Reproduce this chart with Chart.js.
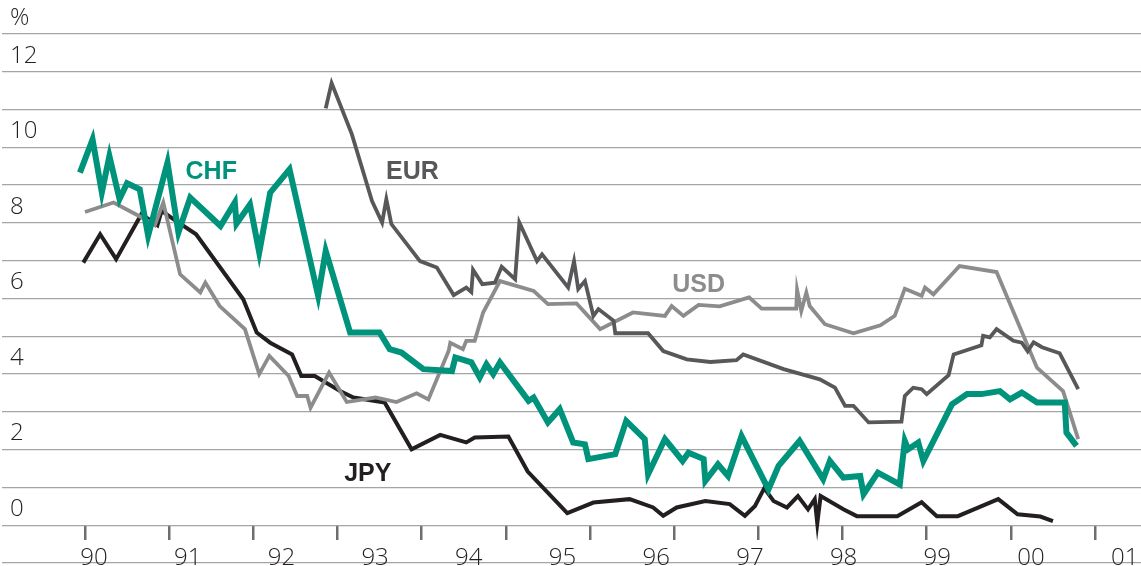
<!DOCTYPE html>
<html>
<head>
<meta charset="utf-8">
<script src="https://cdn.jsdelivr.net/npm/chart.js@4.4.1/dist/chart.umd.min.js"></script>
<style>
    html, body { margin: 0; padding: 0; background: #fff; }
    #wrap { width: 1141px; height: 566px; position: relative; }
</style>
</head>
<body>
<div id="wrap"><canvas id="rates"></canvas></div>
<script>
// time in decimal years, rates in %
var chfX = [1989.94, 1990.09, 1990.20, 1990.29, 1990.41, 1990.50, 1990.65, 1990.75, 1990.98, 1991.11, 1991.25, 1991.61, 1991.78, 1991.80, 1991.96, 1992.07, 1992.20, 1992.43, 1992.77, 1992.86, 1993.15, 1993.50, 1993.62, 1993.76, 1994.02, 1994.36, 1994.40, 1994.59, 1994.69, 1994.77, 1994.85, 1994.93, 1995.27, 1995.33, 1995.50, 1995.64, 1995.80, 1995.94, 1995.98, 1996.30, 1996.43, 1996.65, 1996.69, 1996.89, 1997.10, 1997.17, 1997.35, 1997.37, 1997.52, 1997.64, 1997.80, 1998.12, 1998.24, 1998.49, 1998.77, 1998.85, 1999.01, 1999.21, 1999.25, 1999.42, 1999.68, 1999.74, 1999.78, 1999.90, 1999.96, 2000.30, 2000.48, 2000.65, 2000.87, 2000.99, 2001.13, 2001.31, 2001.64, 2001.66, 2001.78];
var chfY = [9.33, 10.21, 8.81, 9.77, 8.63, 9.05, 8.89, 7.66, 9.60, 7.75, 8.67, 7.92, 8.54, 7.98, 8.49, 7.22, 8.80, 9.42, 6.07, 7.26, 5.10, 5.10, 4.66, 4.57, 4.13, 4.08, 4.44, 4.31, 3.91, 4.26, 4.00, 4.31, 3.29, 3.38, 2.72, 3.07, 2.19, 2.14, 1.75, 1.88, 2.76, 2.28, 1.35, 2.28, 1.70, 1.92, 1.75, 1.17, 1.61, 1.30, 2.36, 0.95, 1.57, 2.23, 1.22, 1.70, 1.26, 1.30, 0.82, 1.39, 1.08, 2.23, 2.01, 2.19, 1.70, 3.20, 3.47, 3.47, 3.55, 3.33, 3.51, 3.25, 3.25, 2.45, 2.10];

var eurX = [1992.86, 1992.93, 1993.17, 1993.41, 1993.53, 1993.58, 1993.64, 1993.98, 1994.18, 1994.38, 1994.53, 1994.59, 1994.61, 1994.72, 1994.87, 1994.95, 1995.11, 1995.16, 1995.37, 1995.43, 1995.74, 1995.81, 1995.86, 1995.94, 1996.04, 1996.10, 1996.28, 1996.30, 1996.69, 1996.87, 1997.15, 1997.43, 1997.74, 1997.82, 1998.30, 1998.73, 1998.91, 1999.03, 1999.13, 1999.31, 1999.70, 1999.74, 1999.84, 1999.94, 2000.00, 2000.26, 2000.32, 2000.65, 2000.67, 2000.75, 2000.83, 2001.03, 2001.13, 2001.20, 2001.27, 2001.37, 2001.58, 2001.80];
var eurY = [11.03, 11.70, 10.35, 8.58, 8.01, 8.63, 7.97, 6.99, 6.82, 6.09, 6.29, 6.17, 6.76, 6.38, 6.42, 6.84, 6.51, 8.01, 6.99, 7.17, 6.29, 6.99, 6.25, 6.46, 5.54, 5.72, 5.41, 5.08, 5.08, 4.61, 4.39, 4.32, 4.37, 4.52, 4.13, 3.86, 3.64, 3.16, 3.16, 2.72, 2.74, 3.42, 3.64, 3.60, 3.47, 3.97, 4.52, 4.76, 5.01, 4.97, 5.19, 4.88, 4.83, 4.60, 4.84, 4.71, 4.55, 3.60];

var usdX = [1990.00, 1990.34, 1990.67, 1990.83, 1990.93, 1991.13, 1991.37, 1991.43, 1991.60, 1991.90, 1992.07, 1992.19, 1992.42, 1992.52, 1992.64, 1992.68, 1992.90, 1993.11, 1993.45, 1993.70, 1993.94, 1994.08, 1994.32, 1994.34, 1994.49, 1994.53, 1994.63, 1994.73, 1994.93, 1995.33, 1995.50, 1995.84, 1996.12, 1996.51, 1996.89, 1996.97, 1997.11, 1997.29, 1997.54, 1997.89, 1998.04, 1998.45, 1998.46, 1998.51, 1998.57, 1998.61, 1998.79, 1999.13, 1999.45, 1999.62, 1999.74, 1999.94, 1999.98, 2000.08, 2000.39, 2000.83, 2001.31, 2001.62, 2001.80];
var usdY = [8.29, 8.54, 8.15, 7.94, 8.54, 6.64, 6.16, 6.42, 5.80, 5.19, 4.00, 4.48, 3.95, 3.42, 3.42, 3.11, 4.04, 3.26, 3.38, 3.26, 3.49, 3.33, 4.61, 4.83, 4.66, 4.88, 4.88, 5.63, 6.46, 6.20, 5.85, 5.87, 5.19, 5.63, 5.54, 5.80, 5.54, 5.83, 5.79, 6.03, 5.73, 5.73, 6.23, 5.67, 6.16, 5.80, 5.32, 5.08, 5.29, 5.54, 6.26, 6.07, 6.29, 6.11, 6.86, 6.70, 4.17, 3.55, 2.28];

var jpyX = [1989.98, 1990.18, 1990.37, 1990.67, 1990.86, 1990.91, 1991.05, 1991.32, 1991.88, 1992.04, 1992.20, 1992.46, 1992.57, 1992.73, 1993.03, 1993.19, 1993.56, 1993.88, 1994.22, 1994.53, 1994.63, 1995.03, 1995.26, 1995.73, 1996.04, 1996.47, 1996.75, 1996.87, 1997.03, 1997.37, 1997.66, 1997.84, 1997.96, 1998.07, 1998.18, 1998.34, 1998.47, 1998.59, 1998.67, 1998.70, 1998.74, 1999.01, 1999.17, 1999.65, 1999.94, 2000.12, 2000.37, 2000.54, 2000.85, 2001.08, 2001.35, 2001.50];
var jpyY = [6.95, 7.70, 7.04, 8.23, 7.94, 8.32, 8.10, 7.70, 5.98, 5.10, 4.83, 4.52, 3.95, 3.95, 3.55, 3.38, 3.25, 2.01, 2.39, 2.19, 2.32, 2.35, 1.42, 0.32, 0.60, 0.69, 0.47, 0.25, 0.47, 0.64, 0.56, 0.25, 0.51, 0.98, 0.64, 0.47, 0.77, 0.42, 0.69, 0.05, 0.77, 0.42, 0.24, 0.24, 0.61, 0.24, 0.24, 0.40, 0.69, 0.29, 0.23, 0.11];

// axis text
var yearTicks = [1990, 1991, 1992, 1993, 1994, 1995, 1996, 1997, 1998, 1999, 2000, 2001, 2002];
var yearLabels = ['90', '91', '92', '93', '94', '95', '96', '97', '98', '99', '00', '01'];
var yLabelValues = [0, 2, 4, 6, 8, 10, 12];
var unitLabel = '%';

// series names and where they sit (year, %)
var seriesNames = ['CHF', 'EUR', 'USD', 'JPY'];
var nameX = [1991.50, 1993.89, 1997.29, 1993.36];
var nameY = [9.16, 9.16, 6.17, 1.17];
var seriesColors = ['#00937c', '#58585b', '#8c8c8c', '#231f20'];
var seriesWidths = [6, 3.8, 3.8, 4];

function pairs(xs, ys) {
    return xs.map((x, i) => ({ x: x, y: ys[i] }));
}

var seriesData = [pairs(chfX, chfY), pairs(eurX, eurY), pairs(usdX, usdY), pairs(jpyX, jpyY)];

function noPad(scale) {
    scale.paddingTop = 0;
    scale.paddingBottom = 0;
    scale.paddingLeft = 0;
    scale.paddingRight = 0;
}

const seriesNamePlugin = {
    id: 'seriesNames',
    afterDatasetsDraw(chart) {
        const ctx = chart.ctx;
        const xs = chart.scales.x, ys = chart.scales.y;
        ctx.save();
        ctx.font = 'bold 25px "Liberation Sans", Arial, sans-serif';
        ctx.textAlign = 'center';
        ctx.textBaseline = 'alphabetic';
        seriesNames.forEach((name, i) => {
            ctx.fillStyle = seriesColors[i];
            ctx.fillText(name, xs.getPixelForValue(nameX[i]), ys.getPixelForValue(nameY[i]));
        });
        ctx.restore();
    }
};

const tickFont = { family: '"Open Sans", sans-serif', size: 24, weight: 300 };

new Chart(document.getElementById('rates'), {
    type: 'line',
    data: {
        datasets: seriesNames.map((name, i) => ({
            label: name,
            data: seriesData[i],
            borderColor: seriesColors[i],
            borderWidth: seriesWidths[i],
            pointRadius: 0,
            tension: 0,
            fill: false,
            borderJoinStyle: 'miter'
        }))
    },
    options: {
        responsive: true,
        maintainAspectRatio: false,
        animation: false,
        layout: { padding: { top: 34, left: 2, right: 0, bottom: 3 } },
        plugins: {
            legend: { display: false },
            tooltip: { enabled: false }
        },
        scales: {
            x: {
                type: 'linear',
                position: { y: 0 },
                min: 1989.014,
                max: 2002.546,
                afterBuildTicks: (axis) => { axis.ticks = yearTicks.map(v => ({ value: v })); },
                afterFit: noPad,
                border: { display: false },
                grid: { drawOnChartArea: false, drawTicks: true, tickLength: 15, color: '#6d6e71', lineWidth: 2.5 },
                ticks: { display: false }
            },
            xl: {
                type: 'linear',
                axis: 'x',
                position: { y: 0 },
                min: -0.982,
                max: 11.174,
                afterBuildTicks: (axis) => { axis.ticks = yearLabels.map((l, i) => ({ value: i })); },
                afterFit: noPad,
                border: { display: false },
                grid: { display: false },
                ticks: {
                    autoSkip: false,
                    maxRotation: 0,
                    padding: 11,
                    color: '#231f20',
                    font: tickFont,
                    callback: (v) => yearLabels[v]
                }
            },
            y: {
                type: 'linear',
                position: 'left',
                min: -1,
                max: 13,
                afterBuildTicks: (axis) => {
                    var t = [];
                    for (var v = -1; v <= 13; v++) t.push({ value: v });
                    axis.ticks = t;
                },
                afterFit: (scale) => { noPad(scale); scale.width = 0; },
                border: { display: false },
                grid: { color: '#a5a5a5', lineWidth: 1.3, drawTicks: false },
                ticks: {
                    mirror: true,
                    padding: 8,
                    labelOffset: -16,
                    color: '#231f20',
                    font: tickFont,
                    callback: (v) => v === 13 ? unitLabel : (yLabelValues.indexOf(v) >= 0 ? String(v) : '')
                }
            }
        }
    },
    plugins: [seriesNamePlugin]
});
</script>
</body>
</html>
